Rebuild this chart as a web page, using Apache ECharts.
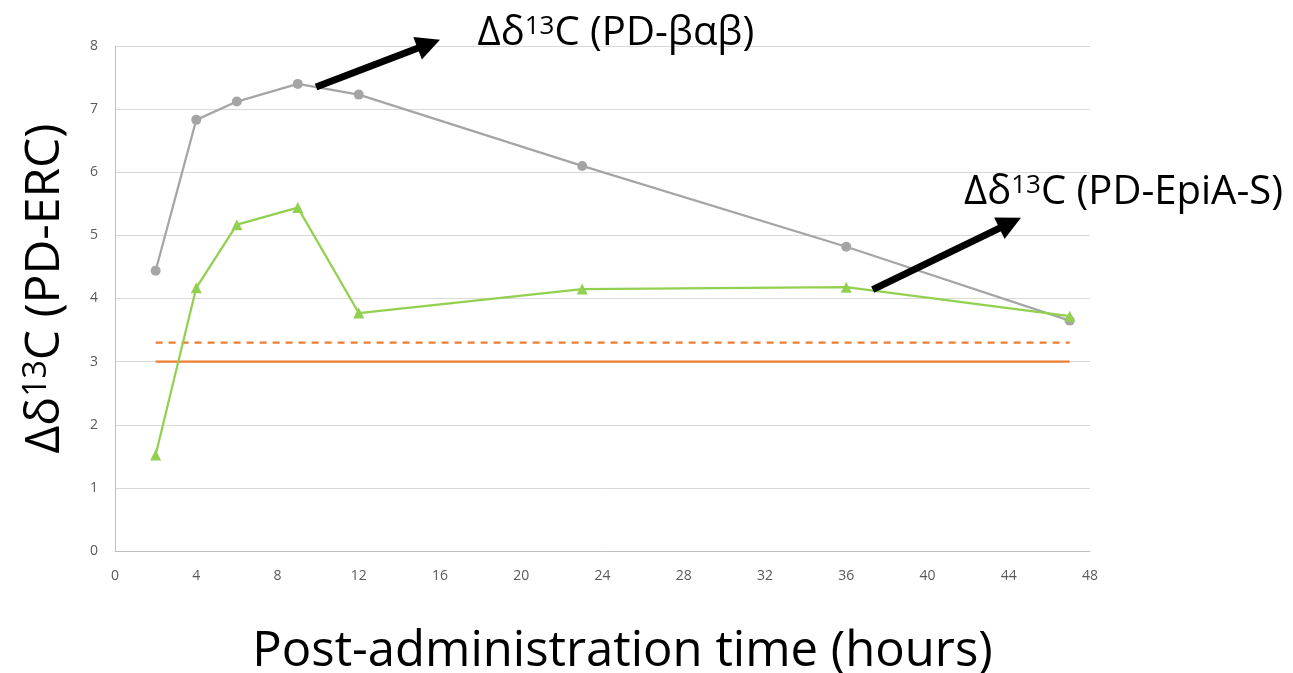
<!DOCTYPE html>
<html><head><meta charset="utf-8">
<script src="https://cdn.jsdelivr.net/npm/echarts@6/dist/echarts.min.js"></script>
<style>html,body{margin:0;padding:0;background:#fff}#c{width:1293px;height:673px}</style>
</head><body><div id="c"></div>
<script>
const hours = [2, 4, 6, 9, 12, 23, 36, 47];
const betaAlphaBeta = [4.44, 6.83, 7.12, 7.40, 7.23, 6.10, 4.82, 3.65];
const epiAS = [1.52, 4.17, 5.17, 5.44, 3.77, 4.15, 4.18, 3.72];
const solidRef = [[2, 3.0], [47, 3.0]];
const dashedRef = [[2, 3.3], [47, 3.3]];
const xTicks = [0, 4, 8, 12, 16, 20, 24, 28, 32, 36, 40, 44, 48];
const yTicks = [0, 1, 2, 3, 4, 5, 6, 7, 8];
// annotation anchors in data coords: [tail, tip], text anchor
const arrows = [[[9.9, 7.35], [16.0, 8.1]], [[37.3, 4.14], [44.6, 5.28]]];
const labels = [{pos: [17.85, 8.2], main: 'PD-βαβ'}, {pos: [41.8, 5.68], main: 'PD-EpiA-S'}];

const font = '"Open Sans", sans-serif';
const chart = echarts.init(document.getElementById('c'));
const richSup = (size) => ({
  n: {fontSize: size, fontFamily: font, color: '#000'},
  s: {fontSize: Math.round(size * 0.66), fontFamily: font, color: '#000', verticalAlign: 'top', padding: [0, 0, Math.round(size*0.33), 0]}
});
chart.setOption({
  animation: false,
  grid: {left: 115, right: 203, top: 46, bottom: 122, outerBoundsMode: 'none', containLabel: false},
  xAxis: {
    type: 'value', min: 0, max: 48, interval: 4,
    axisLine: {show: true, lineStyle: {color: '#bfbfbf', width: 1}},
    axisTick: {show: false},
    splitLine: {show: false},
    axisLabel: {color: '#595959', fontSize: 14, fontFamily: font, margin: 18, formatter: v => xTicks.includes(v) ? String(v) : ''},
    name: '{n|Post-administration time (hours)}',
    nameLocation: 'middle', nameGap: 77,
    nameTextStyle: {rich: {n: {fontSize: 49, fontFamily: font, color: '#000'}}, padding: [0, 0, 0, 40]}
  },
  yAxis: {
    type: 'value', min: 0, max: 8, interval: 1,
    axisLine: {show: true, lineStyle: {color: '#bfbfbf', width: 1}},
    axisTick: {show: false},
    splitLine: {show: true, lineStyle: {color: '#d9d9d9', width: 1}},
    axisLabel: {color: '#595959', fontSize: 14, fontFamily: font, margin: 17, formatter: v => yTicks.includes(v) ? String(v) : ''},
    name: '{n|Δδ}{s|13}{n|C (PD-ERC)}',
    nameLocation: 'middle', nameGap: 46, nameRotate: 90,
    nameTextStyle: {rich: richSup(48), padding: [0, 0, 0, 20]}
  },
  series: [
    {type: 'line', data: hours.map((h, i) => [h, betaAlphaBeta[i]]), symbol: 'circle', symbolSize: 10,
      lineStyle: {color: '#a5a5a5', width: 2.25}, itemStyle: {color: '#a5a5a5'}, z: 3},
    {type: 'line', data: hours.map((h, i) => [h, epiAS[i]]), symbol: 'triangle', symbolSize: 11,
      lineStyle: {color: '#92d050', width: 2.25}, itemStyle: {color: '#92d050'}, z: 4},
    {type: 'line', data: solidRef, symbol: 'none', lineStyle: {color: '#ed7d31', width: 2.25}, z: 2},
    {type: 'line', data: dashedRef, symbol: 'none', lineStyle: {color: '#ed7d31', width: 2.25, type: [7, 6]}, z: 2}
  ]
});
const px = p => chart.convertToPixel({gridIndex: 0}, p);
const g = [];
arrows.forEach(([a, b]) => {
  const t = px(a), h = px(b);
  const dx = h[0] - t[0], dy = h[1] - t[1], L = Math.hypot(dx, dy);
  const ux = dx / L, uy = dy / L, nx = -uy, ny = ux;
  const hl = 24, hw = 12;
  const base = [h[0] - ux * hl, h[1] - uy * hl];
  g.push({type: 'line', shape: {x1: t[0], y1: t[1], x2: base[0] + ux * 2, y2: base[1] + uy * 2}, style: {stroke: '#000', lineWidth: 7}, z: 100});
  g.push({type: 'polygon', shape: {points: [h, [base[0] + nx * hw, base[1] + ny * hw], [base[0] - nx * hw, base[1] - ny * hw]]}, style: {fill: '#000'}, z: 100});
});
labels.forEach(l => {
  const p = px(l.pos);
  g.push({type: 'text', x: p[0], y: p[1], z: 100, style: {
    text: '{n|Δδ}{s|13}{n|C (' + l.main + ')}', verticalAlign: 'middle', align: 'left',
    rich: richSup(40)}});
});
chart.setOption({graphic: g});
</script></body></html>
